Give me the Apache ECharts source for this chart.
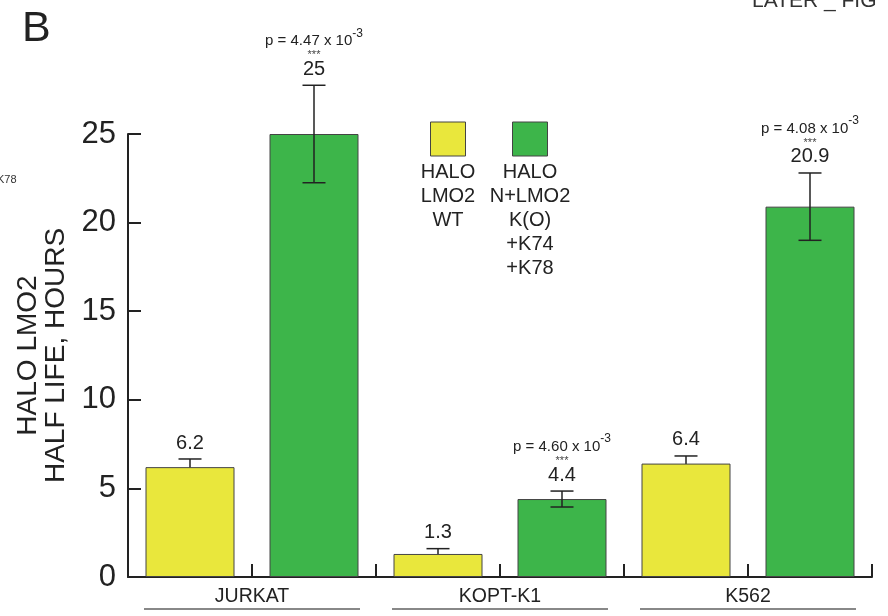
<!DOCTYPE html>
<html>
<head>
<meta charset="utf-8">
<script src="https://cdn.jsdelivr.net/npm/echarts@6/dist/echarts.min.js"></script>
<style>
  html, body { margin: 0; padding: 0; background: #fff; }
  #chart { width: 888px; height: 616px; }
</style>
</head>
<body>
<div id="chart"></div>
<script>
// Cell lines (groups along the x axis)
const cellLines = ['JURKAT', 'KOPT-K1', 'K562'];
// Constructs shown in the legend, one line per entry
const wtLegendLines = ['HALO', 'LMO2', 'WT'];
const mutLegendLines = ['HALO', 'N+LMO2', 'K(O)', '+K74', '+K78'];
// Half life in hours and its error
const wtHalfLife = [6.2, 1.3, 6.4];
const wtError = [0.46, 0.3, 0.43];
const mutHalfLife = [25, 4.4, 20.9];
const mutError = [2.75, 0.45, 1.9];
// p values (mantissa, all x 10^-3)
const pMantissa = ['4.47', '4.60', '4.08'];
const pExponent = '-3';
// Value axis
const yMin = 0, yMax = 25, yStep = 5;

const YELLOW = '#E9E73C';
const GREEN = '#3DB54A';
const INK = '#222';
const FONT = '"Liberation Sans", Arial, Helvetica, sans-serif';

// One category per bar: WT and mutant side by side for each cell line
const barCategories = [];
cellLines.forEach(c => { barCategories.push(c + ' WT'); barCategories.push(c + ' MUT'); });
const wtData = [], mutData = [];
cellLines.forEach((c, i) => {
  wtData.push(wtHalfLife[i], null);
  mutData.push(null, mutHalfLife[i]);
});
const wtErrData = cellLines.map((c, i) => [2 * i, wtHalfLife[i], wtError[i]]);
const mutErrData = cellLines.map((c, i) => [2 * i + 1, mutHalfLife[i], mutError[i]]);

// Text measuring for the superscript exponent placement
const measureCtx = document.createElement('canvas').getContext('2d');
function textWidth(str, size) {
  measureCtx.font = size + 'px ' + FONT;
  return measureCtx.measureText(str).width;
}

function errorBarRenderer(withStats) {
  return function (params, api) {
    const xi = api.value(0);
    const v = api.value(1);
    const e = api.value(2);
    const cx = api.coord([xi, 0])[0];
    const yTop = api.coord([xi, v + e])[1];
    const yBot = api.coord([xi, v - e])[1];
    const half = 11.5;
    const lineStyle = { stroke: INK, lineWidth: 1.5 };
    const children = [
      { type: 'line', shape: { x1: cx, y1: yTop, x2: cx, y2: yBot }, style: lineStyle },
      { type: 'line', shape: { x1: cx - half, y1: yTop, x2: cx + half, y2: yTop }, style: lineStyle },
      { type: 'line', shape: { x1: cx - half, y1: yBot, x2: cx + half, y2: yBot }, style: lineStyle },
      { type: 'text', style: { text: String(v), x: cx, y: yTop - 16, align: 'center', verticalAlign: 'middle',
          font: '20px ' + FONT, fill: INK } }
    ];
    if (withStats) {
      const i = params.dataIndex;
      const main = 'p = ' + pMantissa[i] + ' x 10';
      const w1 = textWidth(main, 15);
      const w2 = textWidth(pExponent, 12);
      const x0 = cx - (w1 + w2) / 2;
      const py = yTop - 44;
      children.push(
        { type: 'text', style: { text: '***', x: cx, y: yTop - 30, align: 'center', verticalAlign: 'middle',
            font: '11px ' + FONT, fill: '#444' } },
        { type: 'text', style: { text: main, x: x0, y: py, align: 'left', verticalAlign: 'middle',
            font: '15px ' + FONT, fill: INK } },
        { type: 'text', style: { text: pExponent, x: x0 + w1, y: py - 8, align: 'left', verticalAlign: 'middle',
            font: '12px ' + FONT, fill: INK } }
      );
    }
    return { type: 'group', children: children };
  };
}

// Legend built from rectangles and multi-line captions
function legendItem(x, color, lines) {
  return {
    type: 'group',
    children: [
      { type: 'rect', shape: { x: x - 17.5, y: 122, width: 35, height: 34 },
        style: { fill: color, stroke: '#444', lineWidth: 1 } },
      { type: 'text', style: { text: lines.join('\n'), x: x, y: 160, align: 'center', verticalAlign: 'top',
          font: '20px ' + FONT, lineHeight: 24, fill: INK } }
    ]
  };
}

const chart = echarts.init(document.getElementById('chart'), null, { renderer: 'canvas' });
chart.setOption({
  animation: false,
  backgroundColor: '#fff',
  grid: { left: 128, right: 16, top: 134, bottom: 39, containLabel: false },
  xAxis: [
    {
      type: 'category',
      data: barCategories,
      position: 'bottom',
      boundaryGap: true,
      axisLine: { lineStyle: { color: INK, width: 2 } },
      axisTick: { show: true, inside: true, length: 13, lineStyle: { color: INK, width: 2 } },
      axisLabel: { show: false }
    },
    {
      type: 'category',
      data: cellLines,
      position: 'bottom',
      offset: 0,
      boundaryGap: true,
      axisLine: { show: false },
      axisTick: { show: false },
      axisLabel: { show: true, margin: 10, fontFamily: FONT, fontSize: 19.5, color: INK }
    }
  ],
  yAxis: {
    type: 'value',
    min: yMin,
    max: yMax,
    interval: yStep,
    name: 'HALO LMO2\nHALF LIFE, HOURS',
    nameLocation: 'middle',
    nameRotate: 90,
    nameGap: 56,
    nameTextStyle: { fontFamily: FONT, fontSize: 28, lineHeight: 28, color: INK },
    axisLine: { show: true, lineStyle: { color: INK, width: 2 } },
    axisTick: { show: true, inside: true, length: 13, lineStyle: { color: INK, width: 2 } },
    axisLabel: { margin: 12, fontFamily: FONT, fontSize: 31, color: INK },
    splitLine: { show: false }
  },
  series: [
    {
      name: 'WT error', type: 'custom', xAxisIndex: 0, z: 1, clip: false,
      data: wtErrData, renderItem: errorBarRenderer(false)
    },
    {
      name: 'HALO LMO2 WT', type: 'bar', xAxisIndex: 0, data: wtData, barWidth: 89, barGap: '-100%', z: 2,
      itemStyle: { color: YELLOW, borderColor: '#444', borderWidth: 1 }
    },
    {
      name: 'HALO N+LMO2 K(O)+K74+K78', type: 'bar', xAxisIndex: 0, data: mutData, barWidth: 89, z: 2,
      itemStyle: { color: GREEN, borderColor: '#444', borderWidth: 1 }
    },
    {
      name: 'Mutant error', type: 'custom', xAxisIndex: 0, z: 3, clip: false,
      data: mutErrData, renderItem: errorBarRenderer(true)
    },
    {
      // Underlines below each cell line name
      name: 'group rule', type: 'custom', xAxisIndex: 1, z: 3, clip: false,
      data: cellLines.map((c, i) => [i, 0]),
      renderItem: function (params, api) {
        const p = api.coord([api.value(0), 0]);
        return { type: 'line', shape: { x1: p[0] - 108, y1: p[1] + 32, x2: p[0] + 108, y2: p[1] + 32 },
          style: { stroke: '#888', lineWidth: 2 } };
      }
    }
  ],
  graphic: [
    { type: 'text', style: { text: 'B', x: 22, y: 29, verticalAlign: 'middle', font: '43px ' + FONT, fill: INK } },
    { type: 'text', style: { text: 'LATER _ FIG', x: 752, y: 1, verticalAlign: 'middle', font: '21px ' + FONT, fill: '#333' } },
    { type: 'text', style: { text: 'K78', x: -3, y: 180, verticalAlign: 'middle', font: '11px ' + FONT, fill: '#333' } },
    legendItem(448, YELLOW, wtLegendLines),
    legendItem(530, GREEN, mutLegendLines)
  ]
});
</script>
</body>
</html>
